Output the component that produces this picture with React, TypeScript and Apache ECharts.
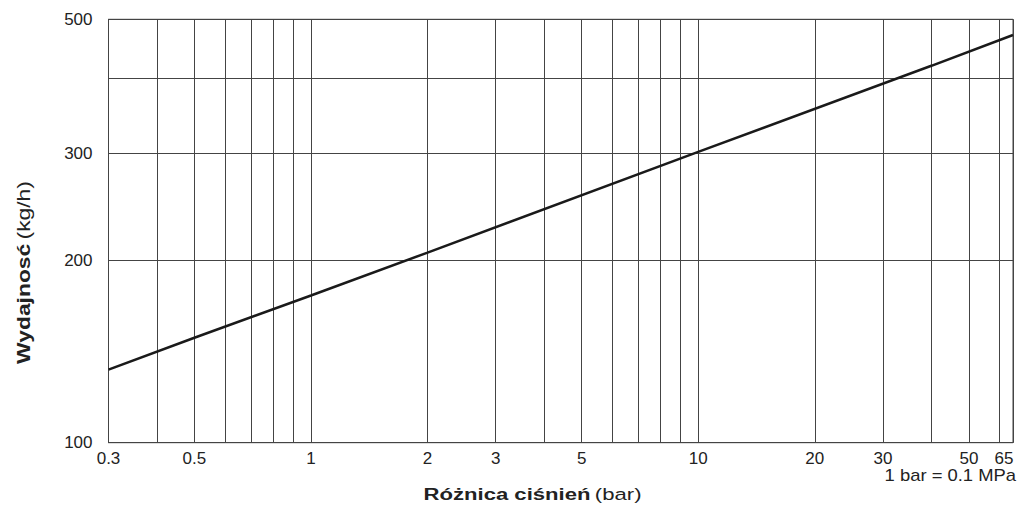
import React, { useEffect, useRef } from "react";
import * as echarts from "echarts";

// Pressure difference (bar) and capacity (kg/h)
const pressure = [0.3, 0.5, 1, 2, 10, 40, 65];
const capacity = [132, 149, 175, 206, 302, 419, 471];

// Grid lines and tick labels
const xGridValues = [0.3, 0.4, 0.5, 0.6, 0.7, 0.8, 0.9, 1, 2, 3, 4, 5, 6, 7, 8, 9, 10, 20, 30, 40, 50, 60, 65];
const xLabelValues = [0.3, 0.5, 1, 2, 3, 5, 10, 20, 30, 50, 65];
const yGridValues = [100, 200, 300, 400, 500];
const yLabelValues = [100, 200, 300, 500];

const xTitleBold = "Różnica ciśnień";
const xTitleUnit = "(bar)";
const yTitleBold = "Wydajnosć";
const yTitleUnit = "(kg/h)";
const noteText = "1 bar = 0.1 MPa";

const FONT = "'Liberation Sans', Arial, Helvetica, sans-serif";
const TEXT = "#222";
const GRID = "#444";

export default function App() {
  const ref = useRef<HTMLDivElement>(null);

  useEffect(() => {
    document.body.style.margin = "0";
    if (!ref.current) return;
    const chart = echarts.init(ref.current, null, { renderer: "svg" });
    const data = pressure.map((p, i) => [p, capacity[i]]);
    chart.setOption({
      animation: false,
      backgroundColor: "#fff",
      textStyle: { fontFamily: FONT },
      grid: {
        left: 108.5,
        right: 13,
        top: 19.3,
        bottom: 67.3,
        show: true,
        borderColor: GRID,
        borderWidth: 1,
        containLabel: false,
        outerBoundsMode: "none",
      },
      xAxis: {
        type: "log",
        logBase: 10,
        min: 0.3,
        max: 65,
        axisLine: { show: true, lineStyle: { color: GRID, width: 1 } },
        axisTick: { show: false, customValues: xGridValues },
        splitLine: { show: true, lineStyle: { color: GRID, width: 1 } },
        minorTick: { show: false },
        minorSplitLine: { show: false },
        axisLabel: {
          customValues: xLabelValues,
          margin: 7,
          fontFamily: FONT,
          fontSize: 17,
          color: TEXT,
          formatter: (v: number) => (v === 65 ? `{e|${v}}` : String(v)),
          rich: {
            e: { fontFamily: FONT, fontSize: 17, color: TEXT, padding: [0, 18, 0, 0] },
          },
        },
      },
      yAxis: {
        type: "log",
        logBase: 10,
        min: 100,
        max: 500,
        axisLine: { show: true, lineStyle: { color: GRID, width: 1 } },
        axisTick: { show: false, customValues: yGridValues },
        splitLine: { show: true, lineStyle: { color: GRID, width: 1 } },
        minorTick: { show: false },
        minorSplitLine: { show: false },
        axisLabel: {
          customValues: yLabelValues,
          margin: 16,
          fontFamily: FONT,
          fontSize: 17,
          color: TEXT,
          padding: [6, 0, 0, 0],
        },
      },
      graphic: [
        {
          type: "text",
          x: 532.5,
          y: 494,
          scaleX: 1.3,
          style: {
            text: `{b|${xTitleBold}} {n|${xTitleUnit}}`,
            rich: {
              b: { fontFamily: FONT, fontSize: 17, fontWeight: "bold", fill: TEXT },
              n: { fontFamily: FONT, fontSize: 17, fill: TEXT },
            },
            align: "center",
            verticalAlign: "middle",
          },
        },
        {
          type: "text",
          x: 23.5,
          y: 272.5,
          rotation: Math.PI / 2,
          scaleX: 1.27,
          style: {
            text: `{b|${yTitleBold}} {n|${yTitleUnit}}`,
            rich: {
              b: { fontFamily: FONT, fontSize: 18, fontWeight: "bold", fill: TEXT },
              n: { fontFamily: FONT, fontSize: 18, fill: TEXT },
            },
            align: "center",
            verticalAlign: "middle",
          },
        },
        {
          type: "text",
          x: 1016,
          y: 475,
          scaleX: 1.15,
          style: {
            text: noteText,
            fontFamily: FONT,
            fontSize: 16,
            fill: TEXT,
            align: "right",
            verticalAlign: "middle",
          },
        },
      ],
      series: [
        {
          type: "line",
          data,
          symbol: "none",
          silent: true,
          lineStyle: { color: "#1a1a1a", width: 2.5 },
        },
      ],
    });
    return () => chart.dispose();
  }, []);

  return <div ref={ref} style={{ width: 1026, height: 510 }} />;
}
